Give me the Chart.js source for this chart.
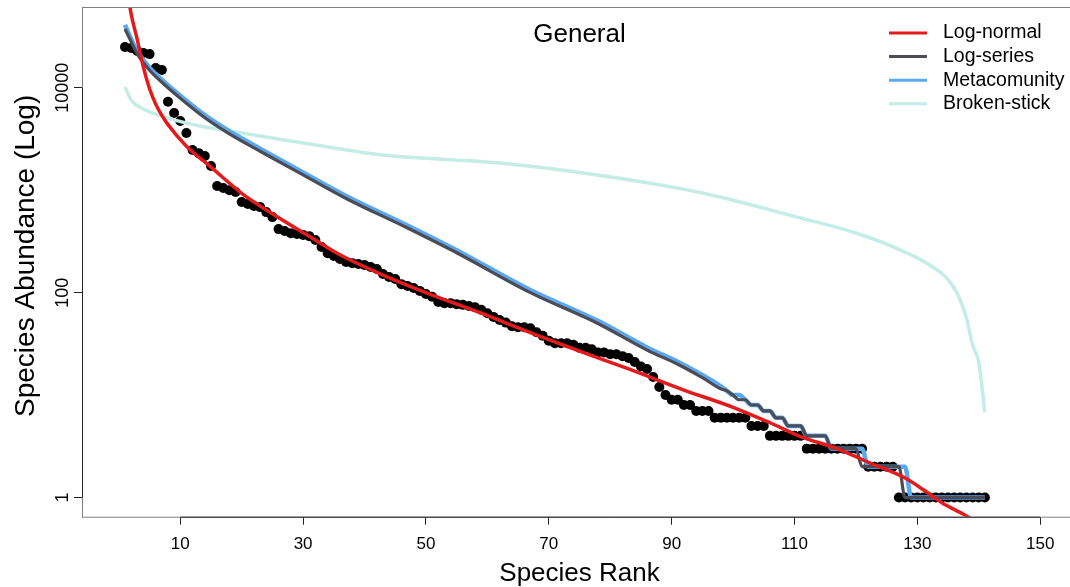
<!DOCTYPE html>
<html>
<head>
<meta charset="utf-8">
<script src="https://cdn.jsdelivr.net/npm/chart.js@4"></script>
<style>
  html, body { margin: 0; padding: 0; background: #fff; overflow: hidden; }
  #wrap { width: 1082px; height: 587px; }
</style>
</head>
<body>
<div id="wrap"><canvas id="rad" width="1082" height="587"></canvas></div>
<script>
// Observed species abundances, ordered by rank (rank = index + 1)
const observed = [
  25000, 24400, 22800, 21800, 21300, 15600, 14900, 7300, 5660, 4730,
  3610, 2470, 2300, 2160, 1720, 1100, 1050, 1000, 960, 766,
  732, 700, 684, 611, 546, 417, 399, 381, 373, 365,
  356, 326, 279, 243, 228, 213, 199, 194, 190, 186,
  178, 170, 152, 142, 136, 121, 116, 111, 104, 97,
  91, 81, 79, 79, 77, 76, 74, 72, 68, 63,
  58, 54, 51, 47, 46, 46, 45, 41, 38, 34,
  32, 32, 32, 31, 29, 29, 28, 26, 26, 25,
  25, 24, 23, 21, 19, 18, 15, 12, 10, 9,
  9, 8, 8, 7, 7, 7, 6, 6, 6, 6,
  6, 6, 5, 5, 5, 4, 4, 4, 4, 4,
  4, 3, 3, 3, 3, 3, 3, 3, 3, 3,
  3, 2, 2, 2, 2, 2, 1, 1, 1, 1,
  1, 1, 1, 1, 1, 1, 1, 1, 1, 1,
  1
];

// Fitted models (rank, expected abundance)
const logNormalRank = [1, 2, 3, 4, 5, 6, 7, 8, 11, 15, 20, 25, 31, 36, 42, 50, 59, 67, 75, 83, 92, 100, 106, 111, 117, 122, 128, 131, 134, 138, 141];
const logNormalValue = [125900, 52500, 29500, 15850, 9770, 6920, 5370, 4370, 2690, 1680, 933, 589, 355, 234, 158, 100, 63, 40.7, 26.9, 18, 11.2, 7.6, 5.37, 3.94, 2.99, 2.21, 1.55, 1.19, 0.89, 0.66, 0.5];

const logSeriesRank = [1, 2, 3, 5, 8, 10, 14, 18, 23, 30, 37, 47, 55, 67, 78, 86, 91, 95, 98, 99, 100, 101, 102, 103, 104, 105, 106, 107, 108, 109, 111, 112, 115, 116, 120, 121, 127, 128, 141];
const logSeriesValue = [37500, 28200, 21400, 14800, 10000, 7900, 5100, 3550, 2400, 1410, 830, 427, 245, 100, 50, 27.5, 20, 14.8, 11.5, 11, 10, 9, 9, 8, 8, 7, 7, 6, 6, 5, 5, 4, 4, 3, 3, 2, 2, 1, 1];

const metaRank = [1, 2, 3, 5, 8, 10, 14, 18, 23, 30, 37, 47, 55, 67, 78, 86, 91, 95, 98, 99, 100, 101, 102, 103, 104, 105, 106, 107, 108, 109, 111, 112, 115, 116, 121, 122, 128, 129, 141];
const metaValue = [41000, 29900, 22700, 15700, 10600, 8370, 5400, 3760, 2540, 1490, 880, 453, 260, 106, 53, 29.2, 21.2, 15.7, 12.2, 11, 10, 10, 9, 8, 8, 7, 7, 6, 6, 5, 5, 4, 4, 3, 3, 2, 2, 1, 1];

const brokenStickRank = [1, 2, 4, 8, 14, 19, 25, 30, 43, 62, 79, 95, 111, 120, 128, 132, 136, 138, 139, 140, 141];
const brokenStickValue = [10160, 7590, 6200, 5060, 4140, 3700, 3230, 2890, 2200, 1840, 1375, 938, 535, 382, 249, 186, 111, 56.5, 30.8, 21, 6.8];

const xTicks = [10, 30, 50, 70, 90, 110, 130, 150];
const yTicks = [1, 100, 10000];

const seriesNames = ['Log-normal', 'Log-series', 'Metacomunity', 'Broken-stick'];
const seriesColors = ['#e41a1c', '#4c4c58', '#5aa8ef', '#c3ede6'];

const FONT = "'Liberation Sans', Arial, Helvetica, sans-serif";
Chart.defaults.font.family = FONT;
Chart.defaults.color = '#000';

function pairs(xs, ys) {
  return xs.map((x, i) => ({ x: x, y: ys[i] }));
}

function modelLine(label, color, width, xs, ys, order) {
  return {
    label: label,
    data: pairs(xs, ys),
    borderColor: color,
    borderWidth: width,
    pointRadius: 0,
    cubicInterpolationMode: 'monotone',
    fill: false,
    clip: 0,
    order: order
  };
}

// Box, y tick labels, titles and legend (R-style plot decorations)
const decorations = {
  id: 'decorations',
  afterDraw(chart) {
    const { ctx, chartArea: a } = chart;
    const x = chart.scales.x, y = chart.scales.y;
    ctx.save();

    // plot frame
    ctx.strokeStyle = '#808080';
    ctx.lineWidth = 1;
    ctx.strokeRect(a.left + 0.5, a.top + 0.5, a.right - a.left, a.bottom - a.top);

    // axis lines spanning the ticks
    ctx.strokeStyle = '#222';
    ctx.beginPath();
    ctx.moveTo(x.getPixelForValue(xTicks[0]), a.bottom + 0.5);
    ctx.lineTo(x.getPixelForValue(xTicks[xTicks.length - 1]), a.bottom + 0.5);
    ctx.moveTo(a.left + 0.5, y.getPixelForValue(yTicks[0]));
    ctx.lineTo(a.left + 0.5, y.getPixelForValue(yTicks[yTicks.length - 1]));
    ctx.stroke();

    // y tick labels, rotated like R's default
    ctx.fillStyle = '#000';
    ctx.font = '18px ' + FONT;
    ctx.textAlign = 'center';
    ctx.textBaseline = 'middle';
    yTicks.forEach(v => {
      ctx.save();
      ctx.translate(a.left - 19, y.getPixelForValue(v));
      ctx.rotate(-Math.PI / 2);
      ctx.fillText(String(v), 0, 0);
      ctx.restore();
    });

    // y axis title
    ctx.save();
    ctx.font = '28px ' + FONT;
    ctx.translate(26, (a.top + a.bottom) / 2 - 6);
    ctx.rotate(-Math.PI / 2);
    ctx.fillText('Species Abundance (Log)', 0, 0);
    ctx.restore();

    // title inside the plot
    ctx.font = '26px ' + FONT;
    ctx.fillText('General', (a.left + a.right) / 2, a.top + 28);

    // legend, top right
    ctx.font = '19.5px ' + FONT;
    ctx.textAlign = 'left';
    seriesNames.forEach((name, i) => {
      const ly = a.top + 26 + i * 23.6;
      ctx.strokeStyle = seriesColors[i];
      ctx.lineWidth = 3;
      ctx.beginPath();
      ctx.moveTo(a.right - 188, ly);
      ctx.lineTo(a.right - 150, ly);
      ctx.stroke();
      ctx.fillText(name, a.right - 134, ly);
    });
    ctx.restore();
  }
};

new Chart(document.getElementById('rad'), {
  type: 'line',
  data: {
    datasets: [
      modelLine(seriesNames[0], seriesColors[0], 3.5, logNormalRank, logNormalValue, 1),
      modelLine(seriesNames[1], seriesColors[1], 3.2, logSeriesRank, logSeriesValue, 2),
      modelLine(seriesNames[2], seriesColors[2], 4.5, metaRank, metaValue, 3),
      modelLine(seriesNames[3], seriesColors[3], 3.5, brokenStickRank, brokenStickValue, 4),
      {
        label: 'Observed',
        data: observed.map((v, i) => ({ x: i + 1, y: v })),
        showLine: false,
        pointRadius: 5,
        pointBackgroundColor: '#000',
        pointBorderWidth: 0,
        order: 5
      }
    ]
  },
  options: {
    responsive: false,
    animation: false,
    layout: { padding: { top: 7, right: 2.5, left: 0, bottom: 0 } },
    plugins: {
      legend: { display: false },
      tooltip: { enabled: false }
    },
    scales: {
      x: {
        type: 'linear',
        min: -6,
        max: 156,
        afterBuildTicks: s => { s.ticks = xTicks.map(v => ({ value: v })); },
        afterFit: s => { s.height = 70.3; },
        grid: { drawOnChartArea: false, drawTicks: true, tickLength: 8, color: '#222' },
        border: { display: false },
        ticks: { font: { size: 17 }, color: '#000', padding: 9, maxRotation: 0, autoSkip: false },
        title: { display: true, text: 'Species Rank', font: { size: 26, lineHeight: 1.0 }, color: '#000', padding: { top: 0, bottom: 0 } }
      },
      y: {
        type: 'logarithmic',
        min: 0.65,
        max: 61400,
        afterBuildTicks: s => { s.ticks = yTicks.map(v => ({ value: v })); },
        afterFit: s => { s.width = 82; },
        grid: { drawOnChartArea: false, drawTicks: true, tickLength: 8, color: '#222' },
        border: { display: false },
        ticks: { display: false }
      }
    }
  },
  plugins: [decorations]
});
</script>
</body>
</html>
